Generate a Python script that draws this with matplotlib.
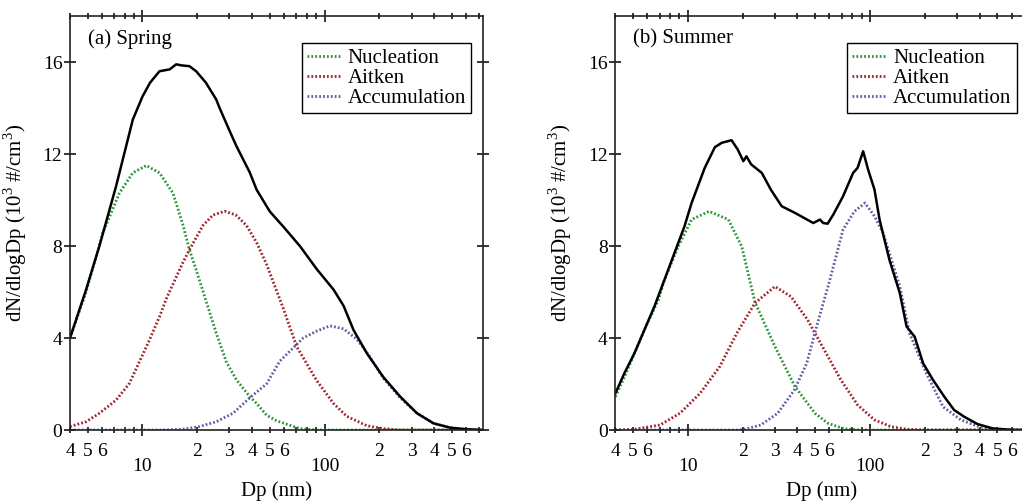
import matplotlib
matplotlib.use("Agg")
import matplotlib.pyplot as plt
from matplotlib.ticker import FixedLocator, FixedFormatter, NullFormatter

plt.rcParams["font.family"] = ["Liberation Serif", "DejaVu Serif"]
plt.rcParams["mathtext.fontset"] = "custom"
plt.rcParams["mathtext.rm"] = "Liberation Serif"

# ---- data (Dp in nm, dN/dlogDp in 10^3 #/cm3) ----
spring_total_dp = [4.0, 4.9, 5.8, 7.16, 8.85, 10.0, 11.0, 12.4, 14.1, 15.3, 16.5,
                   18.1, 19.7, 22.3, 25.4, 26.5, 30.1, 32.8, 38.8, 42.3, 50.0,
                   59.2, 73.1, 90.4, 112, 127, 144, 170, 210, 260, 321, 396,
                   490, 605, 731]
spring_total = [4.0, 6.1, 8.0, 10.6, 13.5, 14.5, 15.1, 15.6, 15.68, 15.9, 15.85,
                15.82, 15.6, 15.1, 14.37, 14.0, 13.0, 12.34, 11.2, 10.45, 9.5,
                8.85, 8.0, 7.0, 6.1, 5.4, 4.35, 3.35, 2.3, 1.45, 0.73, 0.29,
                0.1, 0.03, 0.0]

spring_nuc_dp = [4.0, 4.9, 6.05, 7.47, 8.84, 10.5, 12.4, 14.7, 16.7, 18.1, 19.7,
                 25.4, 28.9, 32.8, 38.8, 42.3, 47.9, 54.5, 73.1, 90.4, 731]
spring_nuc = [4.0, 6.0, 8.57, 10.3, 11.18, 11.5, 11.18, 10.3, 8.9, 7.84, 6.97,
              4.21, 2.95, 2.18, 1.45, 1.16, 0.65, 0.4, 0.06, 0.0, 0.0]

spring_ait_dp = [4.0, 4.9, 5.8, 7.16, 8.48, 10.9, 12.4, 13.5, 16.7, 18.1, 21.5,
                 24.4, 28.3, 32.5, 37.2, 42.3, 48.0, 59.2, 70.2, 90.4, 112, 132,
                 170, 210, 260, 731]
spring_ait = [0.15, 0.36, 0.73, 1.3, 2.03, 3.9, 4.93, 5.7, 7.3, 7.84, 8.9,
              9.35, 9.51, 9.35, 8.9, 8.15, 7.2, 5.3, 3.63, 2.15, 1.15, 0.6,
              0.19, 0.06, 0.0, 0.0]

spring_acc_dp = [4.0, 13.5, 16.7, 20.6, 25.4, 31.4, 38.8, 47.9, 56.8, 76.2, 90.4,
                 107, 127, 150, 170, 210, 260, 321, 396, 490, 605, 731]
spring_acc = [0.0, 0.0, 0.04, 0.15, 0.36, 0.73, 1.4, 2.0, 3.0, 4.0, 4.3,
              4.53, 4.4, 3.95, 3.4, 2.25, 1.4, 0.73, 0.29, 0.1, 0.02, 0.0]

summer_total_dp = [4.01, 4.49, 5.10, 5.78, 6.56, 7.45, 8.45, 9.59, 10.5, 12.4, 14.1,
                   15.4, 17.4, 18.8, 20.2, 21.0, 22.3, 25.5, 28.6, 32.8, 38.8,
                   44.0, 48.9, 53.2, 55.4, 58.6, 62.9, 71.2, 80.9, 85.6, 91.8,
                   97.8, 106, 113, 128, 146, 159, 176, 196, 222, 256, 290, 329,
                   389, 472, 593, 673, 740]
summer_total = [1.6, 2.47, 3.34, 4.35, 5.37, 6.53, 7.69, 8.85, 9.87, 11.4, 12.3,
                12.49, 12.6, 12.2, 11.69, 11.9, 11.55, 11.18, 10.45, 9.73, 9.44,
                9.2, 9.0, 9.15, 9.0, 8.97, 9.36, 10.16, 11.18, 11.4, 12.12,
                11.32, 10.45, 9.15, 7.4, 5.95, 4.5, 4.06, 2.9, 2.18, 1.45, 0.87,
                0.58, 0.26, 0.07, 0.01, 0.0, 0.0]

summer_nuc_dp = [4.01, 4.49, 5.10, 5.78, 6.9, 7.45, 8.87, 10.5, 13.1, 16.7, 19.8,
                 23.4, 30.1, 38.8, 49.9, 58.6, 72.3, 90.0, 740]
summer_nuc = [1.45, 2.3, 3.34, 4.35, 5.66, 6.53, 7.98, 9.15, 9.51, 9.15, 7.98,
              5.55, 3.63, 1.89, 0.73, 0.3, 0.05, 0.0, 0.0]

summer_ait_dp = [4.01, 5.10, 7.05, 9.07, 11.7, 15.0, 18.6, 23.4, 30.1, 36.9, 45.5,
                 56.2, 69.3, 85.6, 106, 130, 161, 200, 740]
summer_ait = [0.0, 0.03, 0.22, 0.73, 1.6, 2.76, 4.21, 5.52, 6.24, 5.8, 4.79,
              3.48, 2.18, 1.09, 0.44, 0.15, 0.03, 0.0, 0.0]

summer_acc_dp = [4.01, 18.8, 20.5, 25.2, 31.2, 38.5, 45.0, 51.0, 60.3, 71.2, 82.1,
                 93.9, 106, 118, 146, 165, 204, 252, 316, 389, 481, 600, 740]
summer_acc = [0.0, 0.0, 0.03, 0.22, 0.73, 1.74, 2.9, 4.5, 6.53, 8.71, 9.5,
              9.87, 9.3, 8.57, 6.24, 4.21, 2.47, 1.01, 0.44, 0.17, 0.04, 0.0, 0.0]

major_ticks = [10, 100]
major_labels = ["10", "100"]
minor_ticks = [4, 5, 6, 7, 8, 9, 20, 30, 40, 50, 60, 70, 80, 90,
               200, 300, 400, 500, 600, 700]
minor_labels = ["4", "5", "6", "", "", "", "2", "3", "4", "5", "6", "", "", "",
                "2", "3", "4", "5", "6", ""]
y_ticks = [0, 4, 8, 12, 16]

mode_names = ["Nucleation", "Aitken", "Accumulation"]
mode_colors = ["#2a9438", "#a0222a", "#5f5da3"]

FS = 15
TICK_FS = 14


def draw_panel(ax, title, total_dp, total, modes):
    """Draw one size-distribution panel."""
    for (dp, vals), name, color in zip(modes, mode_names, mode_colors):
        ax.plot(dp, vals, color=color, lw=2.0, linestyle=(0, (0.65, 0.75)),
                label=name)
    ax.plot(total_dp, total, color="black", lw=1.8)

    ax.set_xscale("log")
    ax.set_xlim(4, 740)
    ax.set_ylim(0, 18)

    ax.xaxis.set_major_locator(FixedLocator(major_ticks))
    ax.xaxis.set_major_formatter(FixedFormatter(major_labels))
    ax.xaxis.set_minor_locator(FixedLocator(minor_ticks))
    ax.xaxis.set_minor_formatter(FixedFormatter(minor_labels))
    ax.set_yticks(y_ticks)
    ax.yaxis.set_minor_formatter(NullFormatter())

    ax.tick_params(axis="x", which="major", direction="inout", length=8, width=1.1,
                   top=True, labelsize=TICK_FS, pad=16)
    ax.tick_params(axis="x", which="minor", direction="inout", length=5, width=1.1,
                   top=True, labelsize=TICK_FS, pad=7)
    ax.tick_params(axis="y", which="major", direction="inout", length=9, width=1.1,
                   right=True, labelsize=TICK_FS, pad=1)
    ax.tick_params(axis="y", which="minor", left=False, right=False)
    for sp in ax.spines.values():
        sp.set_linewidth(1.2)
        sp.set_color("#222222")

    ax.set_xlabel("Dp (nm)", fontsize=FS)
    ax.xaxis.set_label_coords(0.5, -0.125)
    ax.set_ylabel("dN/dlogDp (10$^3$ #/cm$^3$)", fontsize=FS)
    ax.yaxis.set_label_coords(-0.1, 0.5)

    ax.text(0.043, 0.944, title, transform=ax.transAxes, fontsize=FS,
            ha="left", va="center")
    ax.legend(loc="upper right", bbox_to_anchor=(0.972, 0.934), borderaxespad=0,
              fontsize=FS, frameon=True, fancybox=False, edgecolor="black",
              framealpha=1, handlelength=1.6, handletextpad=0.35,
              labelspacing=0.02, borderpad=0.25)


fig = plt.figure(figsize=(10.22, 5.01), dpi=100)
ax_a = fig.add_axes([0.0685, 0.1417, 0.4041, 0.8263])
ax_b = fig.add_axes([0.602, 0.1417, 0.4041, 0.8263])

draw_panel(ax_a, "(a) Spring", spring_total_dp, spring_total,
           [(spring_nuc_dp, spring_nuc), (spring_ait_dp, spring_ait),
            (spring_acc_dp, spring_acc)])
draw_panel(ax_b, "(b) Summer", summer_total_dp, summer_total,
           [(summer_nuc_dp, summer_nuc), (summer_ait_dp, summer_ait),
            (summer_acc_dp, summer_acc)])

fig.savefig("out.png", dpi=100)
plt.close(fig)
